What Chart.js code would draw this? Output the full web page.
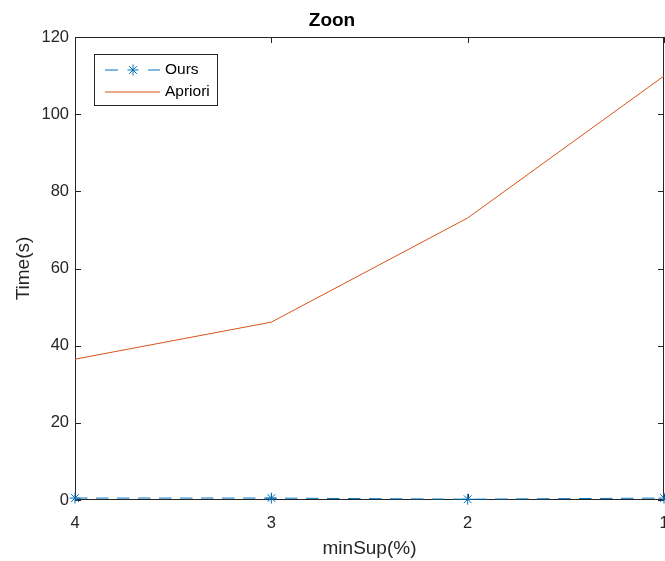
<!DOCTYPE html>
<html>
<head>
<meta charset="utf-8">
<script src="https://cdn.jsdelivr.net/npm/chart.js@4/dist/chart.umd.min.js"></script>
<style>
  body { margin: 0; background: #fff; }
</style>
</head>
<body>
<canvas id="grafico" width="665" height="561"></canvas>
<script>
// valores (eixo x invertido: 4 -> 1)
const minSup = ['4', '3', '2', '1'];
const tempoOurs = [0.5, 0.5, 0.2, 0.5];
const tempoApriori = [36.5, 46.1, 73.1, 109.9];
const limitesY = [0, 120];
const passoY = 20;

const corEixo = '#262626';
const fonte = "'Liberation Sans', Arial, sans-serif";

// moldura + ticks para dentro, estilo matlab
const moldura = {
    id: 'moldura',
    beforeDatasetsDraw(chart) {
        const { ctx, chartArea: a, scales: { x, y } } = chart;
        ctx.save();
        ctx.strokeStyle = corEixo;
        ctx.lineWidth = 1;
        ctx.strokeRect(a.left + 0.5, a.top + 0.5, a.right - a.left - 1, a.bottom - a.top - 1);
        ctx.beginPath();
        x.ticks.forEach((t, i) => {
            const px = Math.round(x.getPixelForTick(i)) + 0.5;
            ctx.moveTo(px, a.bottom); ctx.lineTo(px, a.bottom - 6);
            ctx.moveTo(px, a.top); ctx.lineTo(px, a.top + 6);
        });
        y.ticks.forEach((t, i) => {
            const py = Math.round(y.getPixelForTick(i)) + 0.5;
            ctx.moveTo(a.left, py); ctx.lineTo(a.left + 6, py);
            ctx.moveTo(a.right, py); ctx.lineTo(a.right - 6, py);
        });
        ctx.stroke();
        ctx.restore();
    },
    afterDraw(chart) {
        // legenda dentro da área do gráfico
        const { ctx } = chart;
        const caixa = { x: 94.5, y: 54.5, w: 123, h: 51 };
        ctx.save();
        ctx.fillStyle = '#fff';
        ctx.fillRect(caixa.x, caixa.y, caixa.w, caixa.h);
        ctx.strokeStyle = corEixo;
        ctx.lineWidth = 1;
        ctx.strokeRect(caixa.x, caixa.y, caixa.w, caixa.h);

        chart.data.datasets.forEach((ds, i) => {
            const yy = 70 + i * 22;
            ctx.strokeStyle = ds.borderColor;
            ctx.lineWidth = 1;
            ctx.beginPath();
            if (ds.borderDash) {
                ctx.moveTo(105, yy); ctx.lineTo(118, yy);
                ctx.moveTo(148, yy); ctx.lineTo(160, yy);
            } else {
                ctx.moveTo(105, yy); ctx.lineTo(160, yy);
            }
            ctx.stroke();
            if (ds.pointStyle) {
                Chart.helpers.drawPoint(ctx, {
                    pointStyle: ds.pointStyle, radius: ds.pointRadius, borderWidth: 1, rotation: 0
                }, 133, yy);
            }
            ctx.fillStyle = '#000';
            ctx.font = '15.5px ' + fonte;
            ctx.textAlign = 'left';
            ctx.textBaseline = 'middle';
            ctx.fillText(ds.label, 165, yy);
        });
        ctx.restore();
    }
};

new Chart(document.getElementById('grafico'), {
    type: 'line',
    data: {
        labels: minSup,
        datasets: [{
            label: 'Ours',
            data: tempoOurs,
            borderColor: '#0072BD',
            backgroundColor: '#0072BD',
            borderWidth: 1,
            borderDash: [12.5, 8.5],
            pointStyle: 'star',
            pointRadius: 5.5,
            pointBorderWidth: 1,
            clip: false,
            fill: false
        }, {
            label: 'Apriori',
            data: tempoApriori,
            borderColor: '#D95319',
            borderWidth: 1,
            pointRadius: 0,
            clip: false,
            fill: false
        }]
    },
    options: {
        responsive: false,
        animation: false,
        layout: { autoPadding: false, padding: { left: 0, right: 1, top: 0, bottom: 0 } },
        plugins: {
            legend: { display: false },
            tooltip: { enabled: false },
            title: {
                display: true,
                text: 'Zoon',
                color: '#000',
                font: { family: fonte, size: 19, weight: 'bold' },
                padding: { top: 9.5, bottom: 4.7 }
            }
        },
        scales: {
            x: {
                offset: false,
                grid: { display: false, drawTicks: false },
                border: { display: false },
                ticks: { color: corEixo, font: { family: fonte, size: 16.5 }, padding: 13.5, maxRotation: 0 },
                title: { display: true, text: 'minSup(%)', color: corEixo, font: { family: fonte, size: 19 }, padding: { top: 0, bottom: 0.5 } },
                afterFit(s) { s.height = 61; s.paddingLeft = 0; s.paddingRight = 0; }
            },
            y: {
                min: limitesY[0],
                max: limitesY[1],
                grid: { display: false, drawTicks: false },
                border: { display: false },
                ticks: { stepSize: passoY, color: corEixo, font: { family: fonte, size: 16.5 }, padding: 6 },
                title: { display: true, text: 'Time(s)', color: corEixo, font: { family: fonte, size: 19 }, padding: { top: 12, bottom: 0 } },
                afterFit(s) { s.width = 75; s.paddingTop = 0; s.paddingBottom = 0; }
            }
        }
    },
    plugins: [moldura]
});
</script>
</body>
</html>
